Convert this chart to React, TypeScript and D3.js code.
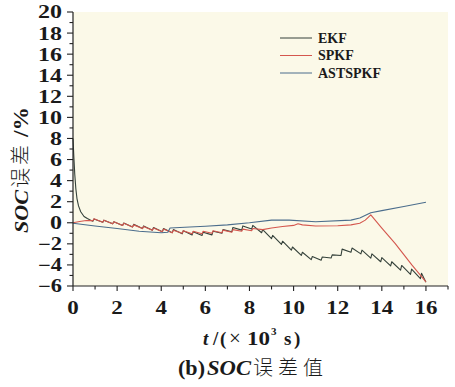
import React from 'react';
import * as d3 from 'd3';

// time in 10^3 s, error in %
const ekfData: [number, number][] = [
  [0, 8.0], [0.04, 6.2], [0.08, 4.6], [0.13, 3.2], [0.18, 2.3], [0.25, 1.6], [0.35, 1.05], [0.5, 0.6], [0.65, 0.4], [0.8, 0.25],
  [0.9, 0.15], [0.95, 0.35], [1.35, 0.05], [1.4, 0.25], [1.8, -0.1], [1.85, 0.1], [2.25, -0.25], [2.3, -0.02],
  [2.7, -0.4], [2.75, -0.15], [3.15, -0.55], [3.2, -0.3], [3.6, -0.7], [3.65, -0.45], [4.05, -0.85], [4.1, -0.55],
  [4.5, -0.95], [4.55, -0.65], [4.95, -1.05], [5.0, -0.75], [5.4, -1.15], [5.45, -0.85], [5.85, -1.2], [5.9, -0.9],
  [6.3, -1.15], [6.35, -0.8], [6.75, -1.0], [6.8, -0.65], [7.2, -0.85], [7.25, -0.45], [7.65, -0.7], [7.7, -0.3],
  [8.1, -0.6], [8.15, -0.25], [8.55, -0.95], [8.6, -0.65], [9.0, -1.5], [9.05, -1.2], [9.45, -2.05], [9.5, -1.75],
  [9.9, -2.6], [9.95, -2.3], [10.35, -3.1], [10.4, -2.8], [10.8, -3.5], [10.85, -3.2], [11.25, -3.55], [11.3, -3.25],
  [11.7, -3.35], [11.75, -3.05], [12.15, -3.1], [12.2, -2.5], [12.6, -2.8], [12.65, -2.4], [13.05, -2.95], [13.1, -2.6],
  [13.5, -3.35], [13.55, -2.95], [13.95, -3.7], [14.0, -3.3], [14.4, -4.1], [14.45, -3.7], [14.85, -4.5], [14.9, -4.05],
  [15.3, -4.9], [15.35, -4.4], [15.75, -5.3], [15.8, -4.8], [16.0, -5.65],
];

const spkfData: [number, number][] = [
  [0, 0], [0.3, 0.12], [0.6, 0.22], [0.9, 0.2], [0.95, 0.38], [1.35, 0.05], [1.4, 0.25], [1.8, -0.1], [1.85, 0.1],
  [2.25, -0.25], [2.3, -0.05], [2.7, -0.4], [2.75, -0.2], [3.15, -0.55], [3.2, -0.35], [3.6, -0.7], [3.65, -0.5],
  [4.05, -0.85], [4.1, -0.6], [4.5, -0.95], [4.55, -0.7], [4.95, -1.0], [5.0, -0.75], [5.4, -1.05], [5.45, -0.8],
  [5.85, -1.05], [5.9, -0.8], [6.3, -1.0], [6.35, -0.75], [6.75, -0.95], [6.8, -0.7], [7.2, -0.9], [7.25, -0.65],
  [7.65, -0.8], [7.7, -0.6], [8.1, -0.75], [8.15, -0.55], [8.6, -0.65], [9.0, -0.5], [9.5, -0.35], [10.0, -0.25],
  [10.2, -0.1], [10.4, -0.2], [11.0, -0.3], [12.0, -0.28], [12.6, -0.2], [13.0, -0.05], [13.25, 0.25], [13.5, 0.75],
  [14.0, -0.5], [14.6, -1.95], [15.36, -4.0], [16.0, -5.6],
];

const astspkfData: [number, number][] = [
  [0, -0.05], [1, -0.3], [2, -0.55], [3, -0.8], [4, -0.95], [4.3, -0.9], [4.4, -0.5], [5.3, -0.4], [6, -0.33],
  [7, -0.2], [8, 0.0], [9, 0.25], [9.8, 0.25], [11, 0.1], [12.6, 0.25], [13.0, 0.45], [13.5, 0.95], [14, 1.15],
  [15, 1.55], [16, 1.95],
];

const seriesNames = ['EKF', 'SPKF', 'ASTSPKF'];
const seriesColors = ['#34413a', '#d4574e', '#4b6d8c'];
const xTicks = [0, 2, 4, 6, 8, 10, 12, 14, 16];
const yTicks = [-6, -4, -2, 0, 2, 4, 6, 8, 10, 12, 14, 16, 18, 20];

export default function App() {
  const width = 455;
  const height = 387;
  const margin = { top: 12, right: 7, bottom: 101, left: 73 };

  const x = d3.scaleLinear().domain([0, 17]).range([margin.left, width - margin.right]);
  const y = d3.scaleLinear().domain([-6, 20]).range([height - margin.bottom, margin.top]);

  const line = d3.line<[number, number]>()
    .x(d => x(d[0]))
    .y(d => y(d[1]));

  const allSeries = [ekfData, spkfData, astspkfData];
  const xMinor = d3.range(0, 18, 1);
  const yMinor = d3.range(-6, 21, 1);
  const serif = '"Liberation Serif", "Times New Roman", serif';
  const cjk = '"Noto Sans CJK SC", sans-serif';
  const ink = '#1a1a1a';
  const fmt = (v: number) => (v < 0 ? '\u2212' + Math.abs(v) : String(v));

  return (
    <div style={{ position: 'absolute', left: 0, top: 0, width, height, background: '#fff' }}>
      <svg width={width} height={height}>
        <rect x={x(0)} y={y(20)} width={x(17) - x(0)} height={y(-6) - y(20)} fill="#fbf9e8" />

        {allSeries.map((s, i) => (
          <path key={seriesNames[i]} d={line(s) || ''} fill="none" stroke={seriesColors[i]} strokeWidth={1.1} strokeLinejoin="round" />
        ))}

        {/* y axis */}
        <line x1={x(0)} x2={x(0)} y1={y(-6)} y2={y(20)} stroke="#222" strokeWidth={1.2} />
        {yMinor.map(v => (
          <line key={'ym' + v} x1={x(0) - (v % 2 === 0 ? 6 : 3.5)} x2={x(0)} y1={y(v)} y2={y(v)} stroke="#222" strokeWidth={1.1} />
        ))}
        {yTicks.map(v => (
          <text key={'yt' + v} x={x(0) - 11} y={y(v)} dy="0.36em" textAnchor="end"
            fontFamily={serif} fontWeight="bold" fontSize={18} fill={ink}
            textLength={fmt(v).length * 12} lengthAdjust="spacingAndGlyphs">
            {fmt(v)}
          </text>
        ))}

        {/* x axis */}
        <line x1={x(0)} x2={x(17)} y1={y(-6)} y2={y(-6)} stroke="#222" strokeWidth={1.2} />
        {xMinor.map(v => (
          <line key={'xm' + v} x1={x(v)} x2={x(v)} y1={y(-6)} y2={y(-6) + (v % 2 === 0 ? 5 : 3.5)} stroke="#222" strokeWidth={1.1} />
        ))}
        {xTicks.map(v => (
          <text key={'xt' + v} x={x(v)} y={y(-6) + 28} textAnchor="middle"
            fontFamily={serif} fontWeight="bold" fontSize={18} fill={ink}
            textLength={String(v).length * 11.5} lengthAdjust="spacingAndGlyphs">
            {v}
          </text>
        ))}

        {/* x title */}
        <g fontFamily={serif} fontWeight="bold" fontSize={19} fill={ink}>
          <text x={203} y={345} fontStyle="italic">t</text>
          <text x={213} y={345}>/</text>
          <text x={220} y={345}>(</text>
          <text x={229} y={345} fontWeight="normal" fontSize={21}>×</text>
          <text x={247} y={345} textLength={23} lengthAdjust="spacingAndGlyphs">10</text>
          <text x={271} y={335} fontSize={11}>3</text>
          <text x={284} y={345}>s</text>
          <text x={294} y={345}>)</text>
        </g>

        {/* y title */}
        <g transform="translate(28,233) rotate(-90)" fill={ink} fontSize={19}>
          <text x={0} y={0} fontFamily={serif} fontWeight="bold" fontStyle="italic" textLength={43} lengthAdjust="spacingAndGlyphs">SOC</text>
          <text x={45} y={0} fontFamily={cjk} fontWeight={300} fontSize={20} letterSpacing={3}>误差</text>
          <text x={96} y={0} fontFamily={serif} fontWeight="bold" fontSize={20} textLength={30} lengthAdjust="spacingAndGlyphs">/%</text>
        </g>

        {/* caption */}
        <g fill={ink} fontSize={20}>
          <text x={178} y={375} fontFamily={serif} fontWeight="bold" textLength={27} lengthAdjust="spacingAndGlyphs">(b)</text>
          <text x={207} y={375} fontFamily={serif} fontWeight="bold" fontStyle="italic" textLength={44} lengthAdjust="spacingAndGlyphs">SOC</text>
          <text x={253} y={375} fontFamily={cjk} fontWeight={300} fontSize={20} letterSpacing={5}>误差值</text>
        </g>

        {/* legend */}
        {seriesNames.map((name, i) => (
          <g key={'lg' + name} transform={`translate(280,${38 + i * 17.5})`}>
            <line x1={0} x2={32} y1={0} y2={0} stroke={seriesColors[i]} strokeWidth={1} />
            <text x={38} y={0} dy="0.35em" fontFamily={serif} fontWeight="bold" fontSize={14} fill={ink}>{name}</text>
          </g>
        ))}
      </svg>
    </div>
  );
}
